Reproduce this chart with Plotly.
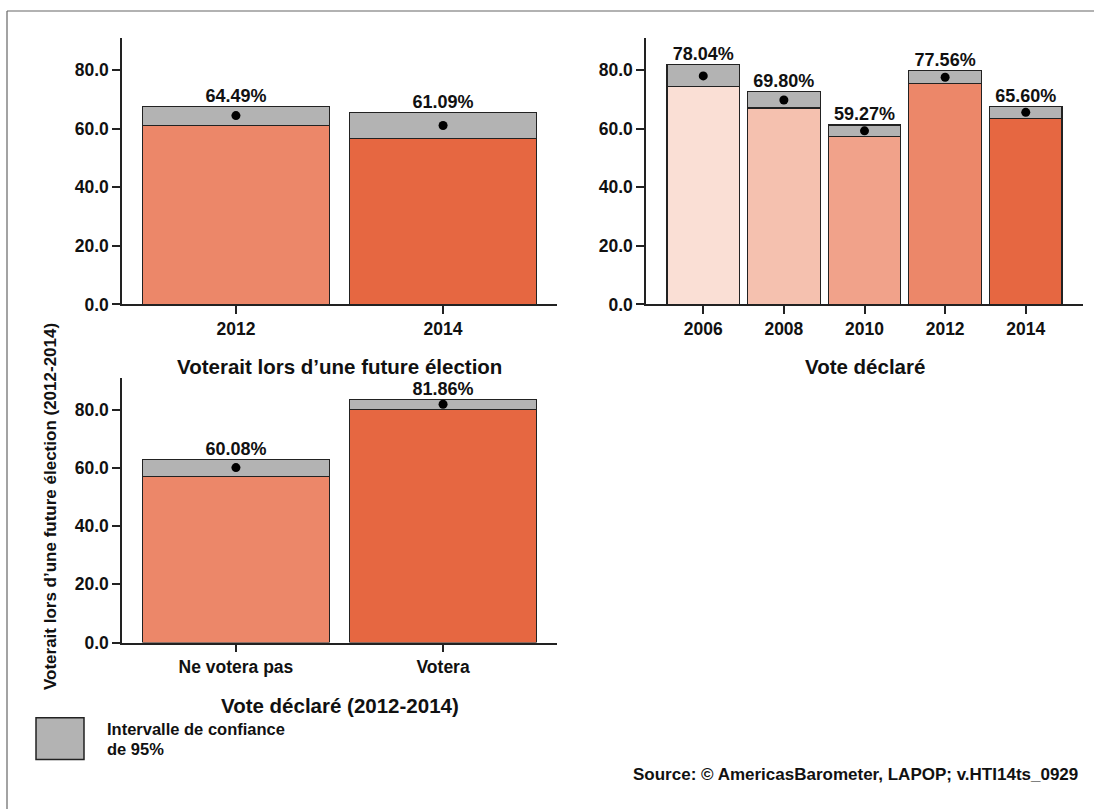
import plotly.graph_objects as go

# ---------------- data ----------------
years_a = ["2012", "2014"]
mean_a = [64.49, 61.09]
lo_a = [61.2, 56.7]
hi_a = [67.7, 65.6]

years_b = ["2006", "2008", "2010", "2012", "2014"]
mean_b = [78.04, 69.80, 59.27, 77.56, 65.60]
lo_b = [74.4, 67.1, 57.3, 75.5, 63.5]
hi_b = [81.9, 72.6, 61.3, 79.8, 67.5]

cats_c = ["Ne votera pas", "Votera"]
mean_c = [60.08, 81.86]
lo_c = [57.0, 80.0]
hi_c = [63.0, 83.5]

colors_a = ["#EC8769", "#E66741"]
colors_b = ["#FADFD5", "#F5C1AF", "#F1A28A", "#EC8769", "#E66741"]
colors_c = ["#EC8769", "#E66741"]

y_ticks = [0, 20, 40, 60, 80]
title_a = "Voterait lors d’une future élection"
title_b = "Vote déclaré"
title_c = "Vote déclaré (2012-2014)"
y_title = "Voterait lors d’une future élection (2012-2014)"
legend_lines = ["Intervalle de confiance", "de 95%"]
source_text = "Source: © AmericasBarometer, LAPOP; v.HTI14ts_0929"

# ---------------- layout helpers ----------------
W, H = 1094, 811
VK = 0.9895  # vertical calibration between target pixel rows and rendered rows
FONT = "Liberation Sans, Arial, Helvetica, sans-serif"
DARK = "#222222"
GRAY = "#B3B3B3"


def px(x):
    return x / W


def py(y):
    return 1 - y / (H * VK)


fig = go.Figure()


def add_panel(cats, mean, lo, hi, colors, axn):
    xa = "x" if axn == 1 else f"x{axn}"
    ya = "y" if axn == 1 else f"y{axn}"
    fig.add_trace(go.Bar(x=cats, y=lo, marker=dict(color=colors, line=dict(color=DARK, width=1.2)),
                         xaxis=xa, yaxis=ya, hoverinfo="skip"))
    fig.add_trace(go.Bar(x=cats, y=[h - l for h, l in zip(hi, lo)], base=lo,
                         marker=dict(color=GRAY, line=dict(color=DARK, width=1.2)),
                         xaxis=xa, yaxis=ya, hoverinfo="skip"))
    fig.add_trace(go.Scatter(x=cats, y=mean, mode="markers",
                             marker=dict(color="black", size=9),
                             xaxis=xa, yaxis=ya, hoverinfo="skip"))
    fig.add_trace(go.Scatter(x=cats, y=hi, mode="text", text=[f"{m:.2f}%" for m in mean],
                             textposition="top center", cliponaxis=False,
                             textfont=dict(family=FONT, size=18, color="#111", weight="bold"),
                             xaxis=xa, yaxis=ya, hoverinfo="skip"))


add_panel(years_a, mean_a, lo_a, hi_a, colors_a, 1)
add_panel(years_b, mean_b, lo_b, hi_b, colors_b, 2)
add_panel(cats_c, mean_c, lo_c, hi_c, colors_c, 3)

axis_common = dict(showline=True, linecolor=DARK, linewidth=1.5, ticks="outside",
                   ticklen=8, tickwidth=1.5, tickcolor=DARK, showgrid=False, zeroline=False,
                   tickfont=dict(family=FONT, size=17.5, color="#111", weight="bold"))

xd_left = [px(122), px(557)]
xd_right = [px(646), px(1083)]
yd_top = [py(305), py(38)]
yd_bot = [py(643.7), py(378.3)]

fig.update_layout(
    width=W, height=H,
    margin=dict(l=0, r=0, t=0, b=0),
    paper_bgcolor="white", plot_bgcolor="white",
    barmode="stack", bargap=0.1,
    showlegend=False,
    font=dict(family=FONT, color="#111"),
    xaxis=dict(domain=xd_left, anchor="y", range=[-0.55, 1.55], type="category", **axis_common),
    yaxis=dict(domain=yd_top, anchor="x", range=[0, 91], tickvals=y_ticks, tickformat=".1f", **axis_common),
    xaxis2=dict(domain=xd_right, anchor="y2", range=[-0.71, 4.71], type="category", **axis_common),
    yaxis2=dict(domain=yd_top, anchor="x2", range=[0, 91], tickvals=y_ticks, tickformat=".1f", **axis_common),
    xaxis3=dict(domain=xd_left, anchor="y3", range=[-0.55, 1.55], type="category", **axis_common),
    yaxis3=dict(domain=yd_bot, anchor="x3", range=[0, 91], tickvals=y_ticks, tickformat=".1f", **axis_common),
)

ann_font = dict(family=FONT, color="#111", weight="bold")
annotations = [
    dict(text=title_a, x=px(339.5), y=py(367), font=dict(size=20.5, **ann_font)),
    dict(text=title_b, x=px(864.5), y=py(367), font=dict(size=20.5, **ann_font)),
    dict(text=title_c, x=px(339.5), y=py(707), font=dict(size=20.5, **ann_font)),
    dict(text=y_title, x=px(50), y=py(508), textangle=-90, font=dict(size=17, **ann_font)),
    dict(text=legend_lines[0], x=px(105), y=py(730), xanchor="left", font=dict(size=16.5, **ann_font)),
    dict(text=legend_lines[1], x=px(105), y=py(750), xanchor="left", font=dict(size=16.5, **ann_font)),
    dict(text=source_text, x=px(1080), y=py(776), xanchor="right", font=dict(size=17, **ann_font)),
]
for a in annotations:
    a.setdefault("xanchor", "center")
    a.update(xref="paper", yref="paper", yanchor="middle", showarrow=False)
fig.update_layout(annotations=annotations)

fig.update_layout(shapes=[
    dict(type="line", xref="paper", yref="paper", x0=px(7), x1=1.01, y0=py(11), y1=py(11),
         line=dict(color="#666", width=1.2)),
    dict(type="line", xref="paper", yref="paper", x0=px(7), x1=px(7), y0=py(11), y1=-0.01,
         line=dict(color="#666", width=1.2)),
    dict(type="rect", xref="paper", yref="paper", x0=px(36), x1=px(84), y0=py(761), y1=py(719),
         fillcolor=GRAY, line=dict(color=DARK, width=1.5)),
])

# remove the default page margin so the 1094x811 figure fills the window exactly
fig.write_html(
    "out.html",
    config={"displayModeBar": False},
    post_script="document.body.style.margin='0';document.body.style.overflow='hidden';"
                "document.documentElement.style.overflow='hidden';",
)
